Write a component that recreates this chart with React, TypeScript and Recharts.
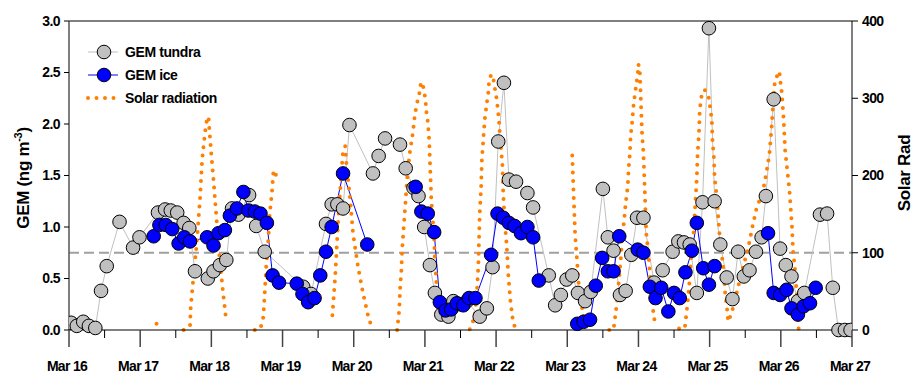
import React from 'react';
import {
  ComposedChart, Line, XAxis, YAxis, ReferenceLine,
} from 'recharts';

// ── Data (time in days after Mar 16 00:00) ───────────────────────────────────

const dayLabels = ['Mar 16', 'Mar 17', 'Mar 18', 'Mar 19', 'Mar 20', 'Mar 21', 'Mar 22', 'Mar 23', 'Mar 24', 'Mar 25', 'Mar 26', 'Mar 27'];
const xTicks = [0, 0.5, 1, 1.5, 2, 2.5, 3, 3.5, 4, 4.5, 5, 5.5, 6, 6.5, 7, 7.5, 8, 8.5, 9, 9.5, 10, 10.5, 11];
const gemTicks = [0, 0.5, 1, 1.5, 2, 2.5, 3];
const solarTicks = [0, 100, 200, 300, 400];

const tundraT = [
  0.03, 0.11, 0.20, 0.28, 0.37, 0.45, 0.53, 0.71, 0.90, 0.99,
  1.25, 1.35, 1.43, 1.52, 1.61, 1.69, 1.77, 1.95, 2.03, 2.12,
  2.21, 2.29, 2.38, 2.53, 2.63, 2.75, 3.29, 3.40, 3.61, 3.69,
  3.77, 3.85, 3.94, 4.27, 4.35, 4.44, 4.65, 4.73, 4.84, 4.91,
  4.99, 5.07, 5.14, 5.23, 5.33, 5.40, 5.49, 5.59, 5.77, 5.87,
  5.95, 6.03, 6.11, 6.18, 6.28, 6.44, 6.52, 6.74, 6.83, 6.91,
  6.99, 7.07, 7.15, 7.25, 7.33, 7.50, 7.57, 7.65, 7.74, 7.82,
  7.90, 7.98, 8.07, 8.22, 8.34, 8.48, 8.56, 8.64, 8.72, 8.82,
  8.90, 8.99, 9.07, 9.15, 9.24, 9.32, 9.40, 9.48, 9.56, 9.65,
  9.73, 9.79, 9.90, 9.99, 10.07, 10.15, 10.24, 10.33, 10.55, 10.65,
  10.73, 10.81, 10.90, 10.98,
];
const tundraV = [
  0.07, 0.04, 0.08, 0.04, 0.02, 0.38, 0.62, 1.05, 0.80, 0.90,
  1.14, 1.17, 1.16, 1.14, 1.04, 0.99, 0.57, 0.50, 0.57, 0.63,
  0.68, 1.18, 1.12, 1.31, 1.01, 0.76, 0.42, 0.35, 1.03, 1.22,
  1.22, 1.18, 1.99, 1.52, 1.69, 1.86, 1.80, 1.57, 1.38, 1.30,
  1.00, 0.63, 0.36, 0.15, 0.13, 0.28, 0.25, 0.28, 0.13, 0.21,
  0.61, 1.83, 2.40, 1.46, 1.44, 1.33, 1.19, 0.53, 0.24, 0.34,
  0.49, 0.53, 0.36, 0.28, 0.37, 1.37, 0.90, 0.77, 0.34, 0.38,
  0.73, 1.09, 1.09, 0.46, 0.58, 0.76, 0.86, 0.85, 0.83, 0.36,
  1.24, 2.93, 1.25, 0.83, 0.51, 0.30, 0.76, 0.52, 0.58, 0.76,
  0.90, 1.30, 2.24, 0.79, 0.63, 0.52, 0.28, 0.36, 1.12, 1.13,
  0.41, 0.00, 0.00, 0.00,
];

const iceT = [
  1.19, 1.27, 1.36, 1.45, 1.54, 1.62, 1.70, 1.94, 2.03, 2.10,
  2.19, 2.26, 2.36, 2.45, 2.52, 2.61, 2.69, 2.78, 2.86, 2.95,
  3.20, 3.28, 3.36, 3.45, 3.53, 3.61, 3.69, 3.85, 4.19, 4.50,
  4.87, 4.95, 5.04, 5.13, 5.21, 5.29, 5.37, 5.45, 5.54, 5.62,
  5.71, 5.93, 6.02, 6.10, 6.18, 6.26, 6.35, 6.44, 6.52, 6.60,
  6.90, 7.14, 7.23, 7.32, 7.40, 7.49, 7.57, 7.65, 7.73, 7.99,
  8.07, 8.16, 8.24, 8.32, 8.42, 8.50, 8.58, 8.66, 8.75, 8.82,
  8.91, 8.99, 9.07, 9.45, 9.82, 9.90, 9.99, 10.08, 10.15, 10.24,
  10.32, 10.41, 10.49,
];
const iceV = [
  0.91, 1.02, 1.02, 0.98, 0.84, 0.90, 0.86, 0.90, 0.82, 0.94,
  0.97, 1.11, 1.18, 1.34, 1.16, 1.15, 1.13, 1.04, 0.53, 0.46,
  0.45, 0.35, 0.27, 0.31, 0.53, 0.76, 1.00, 1.52, 0.83, null,
  1.39, 1.15, 1.13, 0.95, 0.27, 0.19, 0.20, 0.26, 0.24, 0.31,
  0.31, 0.73, 1.13, 1.09, 1.04, 1.01, 0.94, 1.00, 0.90, 0.48,
  null, 0.06, 0.08, 0.10, 0.43, 0.70, 0.57, 0.57, 0.91, 0.78,
  0.75, 0.42, 0.31, 0.41, 0.18, 0.36, 0.31, 0.56, 0.77, 1.04,
  0.60, 0.44, 0.62, null, 0.94, 0.36, 0.34, 0.39, 0.21, 0.15,
  0.23, 0.26, 0.41,
];

const solarT = [
  1.23, 1.40,
  1.61, 1.70, 1.71, 1.74, 1.79, 1.84, 1.87, 1.91, 1.94, 1.96, 1.97, 1.99, 2.03, 2.07, 2.11, 2.16, 2.21, 2.40,
  2.61, 2.69, 2.73, 2.75, 2.77, 2.80, 2.82, 2.85, 2.87, 2.89, 2.93, 3.30,
  3.70, 3.74, 3.78, 3.82, 3.85, 3.88, 3.90, 3.95, 3.99, 4.06, 4.13, 4.20, 4.25, 4.45,
  4.61, 4.64, 4.65, 4.67, 4.68, 4.70, 4.72, 4.74, 4.76, 4.79, 4.83, 4.86, 4.89, 4.92, 4.94, 4.96,
  4.99, 5.01, 5.02, 5.04, 5.06, 5.07, 5.08, 5.09, 5.11, 5.13, 5.14, 5.16, 5.17, 5.19, 5.20, 5.40,
  5.63, 5.70, 5.73, 5.75, 5.76, 5.77, 5.79, 5.80, 5.82, 5.84, 5.87, 5.89, 5.90, 5.93, 5.96,
  6.01, 6.04, 6.06, 6.09, 6.10, 6.12, 6.15, 6.17, 6.20, 6.24, 6.28, 6.70,
  7.07, 7.08, 7.09, 7.10, 7.11, 7.13, 7.14, 7.15, 7.16, 7.18, 7.20, 7.21, 7.23, 7.25, 7.40,
  7.59, 7.65, 7.67, 7.69, 7.71, 7.73, 7.75, 7.77, 7.80, 7.82, 7.85, 7.86, 7.88, 7.89, 7.91, 7.93,
  7.95, 7.97, 7.99, 8.00, 8.02, 8.03, 8.04, 8.05, 8.07, 8.08, 8.09, 8.10, 8.11, 8.14, 8.16, 8.18,
  8.21, 8.24, 8.40,
  8.57, 8.65, 8.68, 8.71, 8.73, 8.75, 8.77, 8.78, 8.79, 8.80, 8.82, 8.83, 8.85, 8.86, 8.87, 8.89,
  8.93, 8.99, 9.03, 9.04, 9.06, 9.07, 9.10, 9.12, 9.14, 9.17, 9.19, 9.20, 9.21, 9.22, 9.24, 9.25,
  9.26, 9.31, 9.38, 9.45, 9.50, 9.55, 9.60, 9.66, 9.71, 9.76, 9.80, 9.84, 9.87, 9.89, 9.91, 9.92,
  9.98, 9.99, 10.01, 10.02, 10.04, 10.06, 10.09, 10.12, 10.14, 10.16, 10.17, 10.20, 10.22, 10.24, 10.25,
];
const solarV = [
  8, null,
  0, 5, 30, 60, 108, 169, 220, 255, 274, 276, 262, 238, 194, 147, 99, 52, 11, null,
  0, 2, 17, 48, 82, 117, 151, 177, 203, 207, 192, null,
  19, 70, 140, 195, 232, 238, 212, 169, 125, 82, 48, 19, 4, null,
  0, 26, 52, 78, 104, 130, 156, 182, 207, 231, 255, 279, 294, 305, 318, 321,
  309, 296, 283, 270, 246, 220, 194, 169, 143, 117, 91, 65, 39, 22, 9, null,
  1, 17, 48, 82, 117, 151, 186, 220, 246, 272, 294, 307, 320, 331, 326,
  298, 272, 244, 212, 177, 143, 108, 73, 39, 9, 1, null,
  226, 199, 173, 149, 123, 99, 86, 73, 60, 50, 39, 26, 15, 6, null,
  0, 0, 15, 30, 48, 69, 91, 117, 143, 164, 186, 207, 229, 251, 268, 290,
  305, 318, 331, 344, 333, 307, 281, 255, 229, 203, 177, 151, 125, 99, 73, 48,
  22, 4, null,
  2, 2, 26, 54, 80, 104, 119, 132, 149, 166, 197, 227, 255, 281, 292, 305,
  311, 300, 272, 246, 223, 197, 173, 147, 123, 97, 84, 71, 58, 45, 32, 22,
  11, 22, 48, 75, 92, 110, 133, 158, 170, 185, 205, 228, 262, 290, 316, 324,
  335, 324, 311, 298, 272, 233, 207, 182, 156, 130, 104, 78, 52, 26, 2,
];

const tundraData = tundraT.map((t, i) => ({ t, v: tundraV[i] }));
const iceData = iceT.map((t, i) => ({ t, v: iceV[i] }));
const solarData = solarT.map((t, i) => ({ t, v: solarV[i] }));

// ── Styles ───────────────────────────────────────────────────────────────────

const FONT = '"Liberation Sans", Arial, sans-serif';
const GRAY = '#C0C0C0';
const BLUE = '#0000FF';
const ORANGE = '#FF8000';
const R = 6.8;
const DOTS = '0 8.5';

const DayTick = (props: any) => {
  const { x, y, payload } = props;
  const v = payload.value;
  const major = Number.isInteger(v);
  return (
    <g>
      <line x1={x} x2={x} y1={y} y2={y + (major ? 17 : 8)} stroke={major ? '#444' : '#000'} strokeWidth={major ? 1.5 : 1} />
      {major && (
        <text x={x - 2} y={y + 41} textAnchor="middle" fontFamily={FONT} fontWeight="bold" fontSize={14} letterSpacing={-0.7} fill="#000">
          {dayLabels[v]}
        </text>
      )}
    </g>
  );
};

// single solar readings with no neighbour would vanish in a dotted line
const solarDot = (p: any) => {
  const i = p.index;
  const alone = solarV[i] != null && (i === 0 || solarV[i - 1] == null) && (i === solarV.length - 1 || solarV[i + 1] == null);
  return alone
    ? <circle key={`sd${i}`} cx={p.cx} cy={p.cy} r={2} fill={ORANGE} />
    : <g key={`sd${i}`} />;
};

export default function App() {
  const tickStyle = { fontFamily: FONT, fontWeight: 'bold', fontSize: 14, fill: '#000', letterSpacing: -0.6 };
  return (
    <div style={{ position: 'absolute', left: 0, top: 0, width: 914, height: 374, background: '#fff' }}>
      <ComposedChart width={914} height={374} margin={{ top: 21, right: 0, bottom: 0, left: 0 }}>
        <XAxis
          dataKey="t"
          type="number"
          domain={[0, 11]}
          ticks={xTicks}
          height={44}
          tickSize={0}
          tickMargin={0}
          tickLine={false}
          axisLine={{ stroke: '#000' }}
          tick={<DayTick />}
          interval={0}
          allowDataOverflow
        />
        <YAxis
          yAxisId="l"
          domain={[0, 3]}
          ticks={gemTicks}
          width={69}
          tickSize={5}
          tickMargin={4}
          tickFormatter={(v: number) => v.toFixed(1)}
          tick={tickStyle}
          axisLine={{ stroke: '#555', strokeWidth: 1.5 }}
          tickLine={{ stroke: '#000' }}
          interval={0}
        />
        <YAxis
          yAxisId="r"
          orientation="right"
          domain={[0, 400]}
          ticks={solarTicks}
          width={62}
          tickSize={6}
          tickMargin={4}
          tick={{ ...tickStyle, textAnchor: 'start' }}
          axisLine={{ stroke: '#000' }}
          tickLine={{ stroke: '#000' }}
          interval={0}
        />
        <ReferenceLine yAxisId="l" y={3} stroke="#000" strokeWidth={1} />
        <ReferenceLine yAxisId="l" y={0.75} stroke="#A0A0A0" strokeWidth={2} strokeDasharray="10 5" />
        <Line
          yAxisId="l"
          data={tundraData}
          dataKey="v"
          stroke={GRAY}
          strokeWidth={1}
          dot={{ r: R, fill: GRAY, stroke: '#000', strokeWidth: 1 }}
          activeDot={false}
          isAnimationActive={false}
        />
        <Line
          yAxisId="l"
          data={iceData}
          dataKey="v"
          stroke={BLUE}
          strokeWidth={1}
          dot={{ r: R, fill: BLUE, stroke: '#000', strokeWidth: 1 }}
          activeDot={false}
          isAnimationActive={false}
        />
        <Line
          yAxisId="r"
          data={solarData}
          dataKey="v"
          stroke={ORANGE}
          strokeWidth={4}
          strokeDasharray={DOTS}
          strokeLinecap="round"
          dot={solarDot}
          activeDot={false}
          isAnimationActive={false}
        />
      </ComposedChart>

      <svg width={914} height={374} style={{ position: 'absolute', left: 0, top: 0, pointerEvents: 'none' }}>
        <g fontFamily={FONT} fontWeight="bold" fill="#000">
          <text transform="translate(29,178) rotate(-90)" textAnchor="middle" fontSize={17} letterSpacing={-0.3}>
            GEM (ng m<tspan dy={-7} fontSize={11}>-3</tspan><tspan dy={7}>)</tspan>
          </text>
          <text transform="translate(910,173) rotate(-90)" textAnchor="middle" fontSize={17} letterSpacing={-0.3}>
            Solar Rad
          </text>

          {/* legend */}
          <line x1={88} x2={118} y1={52} y2={52} stroke={GRAY} strokeWidth={1} />
          <circle cx={104} cy={52} r={R} fill={GRAY} stroke="#000" strokeWidth={1} />
          <text x={125} y={57} fontSize={14} letterSpacing={-0.4}>GEM tundra</text>

          <line x1={88} x2={118} y1={75} y2={75} stroke={BLUE} strokeWidth={1} />
          <circle cx={104} cy={75} r={R} fill={BLUE} stroke="#000" strokeWidth={1} />
          <text x={125} y={80} fontSize={14} letterSpacing={-0.4}>GEM ice</text>

          <line x1={88} x2={114} y1={98} y2={98} stroke={ORANGE} strokeWidth={4} strokeDasharray={DOTS} strokeLinecap="round" />
          <text x={125} y={103} fontSize={14} letterSpacing={-0.4}>Solar radiation</text>
        </g>
      </svg>
    </div>
  );
}
